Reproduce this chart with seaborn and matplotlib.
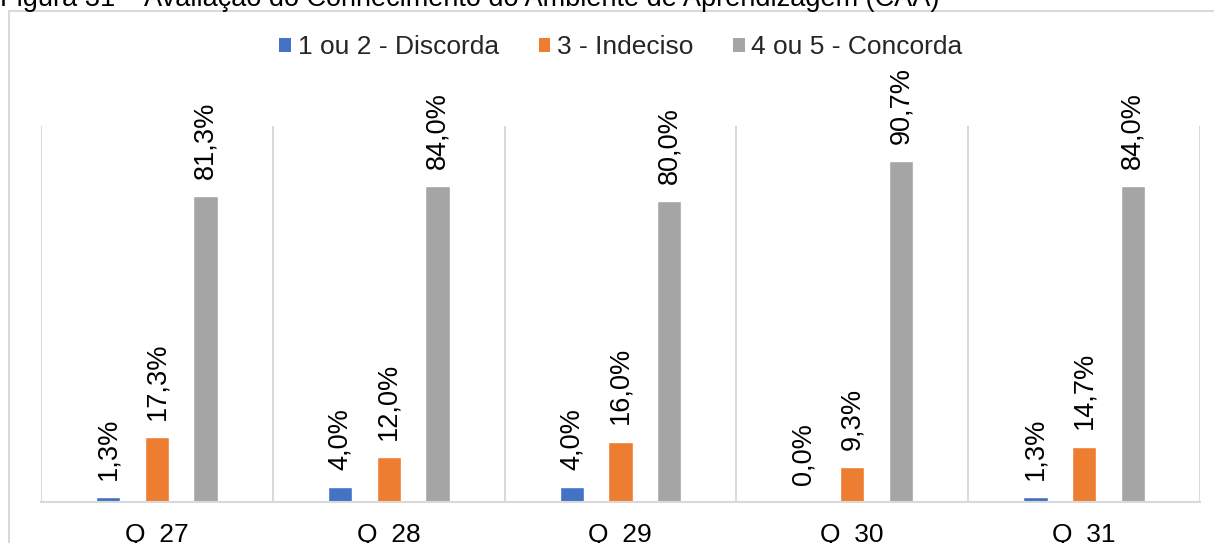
import matplotlib
matplotlib.use("Agg")
import matplotlib.pyplot as plt
from matplotlib.patches import Patch, Rectangle
import seaborn as sns
import pandas as pd

categories = ["Q_27", "Q_28", "Q_29", "Q_30", "Q_31"]
series_names = ["1 ou 2 - Discorda", "3 - Indeciso", "4 ou 5 - Concorda"]
discorda = [1.3, 4.0, 4.0, 0.0, 1.3]
indeciso = [17.3, 12.0, 16.0, 9.3, 14.7]
concorda = [81.3, 84.0, 80.0, 90.7, 84.0]
colors = ["#4472C4", "#ED7D31", "#A5A5A5"]
title = "Figura 31 – Avaliação do Conhecimento do Ambiente de Aprendizagem (CAA)"

rows = []
for name, vals in zip(series_names, [discorda, indeciso, concorda]):
    for c, v in zip(categories, vals):
        rows.append({"q": c, "v": v, "s": name})
df = pd.DataFrame(rows)

sns.set_theme(style="white")
plt.rcParams["font.family"] = ["Liberation Sans", "DejaVu Sans"]

W, H = 1214, 543
fig = plt.figure(figsize=(W / 100, H / 100), dpi=100)
ax = fig.add_axes([41 / W, (H - 502) / H, (1200 - 41) / W, (502 - 126) / H])

sns.barplot(data=df, x="q", y="v", hue="s", palette=colors, width=0.63, gap=0.5,
            ax=ax, legend=False, saturation=1, errorbar=None)

fs = 19
for cont in ax.containers:
    ax.bar_label(cont, labels=[f"{b.get_height():.1f}%".replace(".", ",") for b in cont],
                 rotation=90, padding=12.5, fontsize=19.5, color="#000000")

ax.set_ylim(0, 100)
ax.set_xlim(-0.5, len(categories) - 0.5)
ax.set_yticks([])
ax.set_xlabel("")
ax.set_ylabel("")
for s in ["top", "left", "right"]:
    ax.spines[s].set_visible(False)
ax.spines["bottom"].set_color("#d9d9d9")
ax.spines["bottom"].set_linewidth(1.5)
for xv in [i - 0.5 for i in range(len(categories) + 1)]:
    ax.axvline(xv, color="#d9d9d9", lw=1.5, zorder=0)
ax.tick_params(axis="x", length=0, pad=15, labelsize=fs, colors="#000000")

# chart frame
fig.patches.append(Rectangle((9 / W, -0.2), 1.2, (H - 10.5) / H + 0.2,
                             transform=fig.transFigure, fill=False,
                             edgecolor="#d9d9d9", lw=1.5, zorder=0))

handles = [Patch(facecolor=c, edgecolor="none") for c in colors]
fig.legend(handles, series_names, loc="center", bbox_to_anchor=(621 / W, (H - 47) / H),
           ncol=3, frameon=False, fontsize=fs, handlelength=0.45, handleheight=0.45,
           handletextpad=0.25, columnspacing=1.5, borderpad=0)

fig.text(0.0, (H - 6.3) / H, title, fontsize=19.5, va="baseline", ha="left", color="#000000")

fig.savefig("out.png", dpi=100, facecolor="white")
